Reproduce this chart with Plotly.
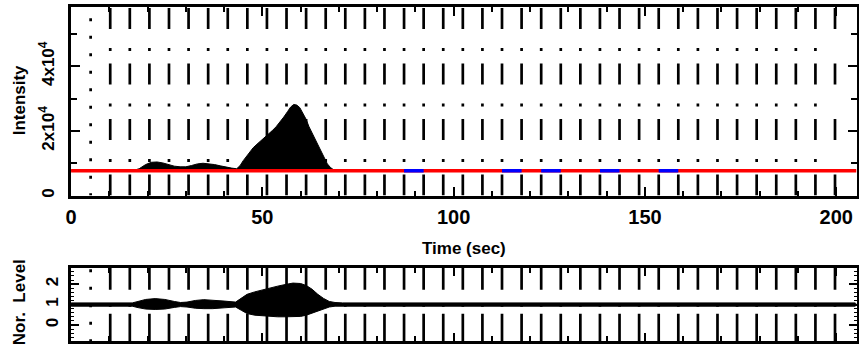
import plotly.graph_objects as go

# ---------------- data ----------------
# top panel: intensity light curve (counts) vs time (s)
time_s = [0, 16.0, 17.8, 19.5, 21.0, 22.5, 24.0, 25.5, 27.0, 28.5, 30.0, 31.5, 33.0, 34.5, 36.0,
          37.5, 39.0, 40.5, 42.0, 43.3, 44.2, 45.0, 45.9, 46.8, 47.6, 48.6, 49.6, 50.6, 51.6,
          52.6, 53.6, 54.6, 55.6, 56.6, 57.4, 58.2, 59.0, 59.8, 60.6, 61.4, 62.2, 63.0, 63.8,
          64.6, 65.4, 66.2, 67.0, 67.8, 68.6, 69.5, 205.0]
intensity = [7700, 7700, 8300, 9600, 10300, 10400, 10100, 9600, 9100, 8900, 8900, 9300, 9800, 10000, 9900,
             9600, 9200, 8800, 8500, 8300, 9300, 10800, 12200, 13600, 14800, 15900, 16900, 17900, 19000,
             20100, 21300, 22700, 24300, 26000, 27400, 28200, 28000, 27200, 25600, 23700, 21300, 19300, 17600,
             15500, 13300, 11300, 9800, 8700, 8000, 7700, 7700]
background_level = 7700

# vertical segment markers (s)
segment_times = [5.12, 10.24, 15.36, 20.48, 25.60, 30.72, 35.84, 40.96, 46.08, 51.20,
                 56.32, 61.44, 66.56, 71.68, 76.80, 81.92, 87.04, 92.16, 97.28, 102.40,
                 107.52, 112.64, 117.76, 122.88, 128.00, 133.12, 138.24, 143.36, 148.48, 153.60,
                 158.72, 163.84, 168.96, 174.08, 179.20, 184.32, 189.44, 194.56, 199.68]

# flagged (blue) intervals on the background line
flag_start = [87.04, 112.64, 122.88, 138.24, 153.60]
flag_end = [92.16, 117.76, 128.00, 143.36, 158.72]

# bottom panel: normalised level envelope
norm_time = [0, 16.0, 17.5, 19.5, 22.0, 24.5, 27.0, 28.6, 30.3, 32.5, 34.7, 37.0, 40.0, 43.0,
             44.5, 46.0, 48.0, 50.0, 52.0, 54.0, 56.0, 58.0, 60.0, 61.5, 63.0, 64.5, 66.0, 67.5,
             69.0, 71.0, 205.0]
norm_upper = [1.08, 1.08, 1.15, 1.25, 1.29, 1.25, 1.15, 1.10, 1.12, 1.20, 1.24, 1.22, 1.17, 1.12,
              1.30, 1.50, 1.62, 1.72, 1.82, 1.90, 1.98, 2.05, 2.03, 1.93, 1.75, 1.50, 1.30, 1.15,
              1.10, 1.08, 1.08]
norm_lower = [0.92, 0.92, 0.85, 0.78, 0.76, 0.78, 0.86, 0.90, 0.88, 0.82, 0.80, 0.80, 0.84, 0.88,
              0.72, 0.56, 0.48, 0.45, 0.42, 0.40, 0.40, 0.40, 0.42, 0.48, 0.58, 0.68, 0.78, 0.88,
              0.92, 0.92, 0.92]
norm_reference = 1.0

x_ticks = [0, 50, 100, 150, 200]
y1_ticks = [0, 20000, 40000]
y1_ticktext = ["0", "2x10<sup>4</sup>", "4x10<sup>4</sup>"]
y2_ticks = [0, 1, 2]

# ---------------- figure ----------------
W, H = 859, 350
X_RANGE = [0, 205.3]
Y1_RANGE = [0, 58460]
Y2_RANGE = [-0.8, 2.8]

top_px, bot_px = 6.7, 196.7
top2_px, bot2_px = 269.3, 343.3
u1 = (Y1_RANGE[1] - Y1_RANGE[0]) / (bot_px - top_px)   # units per pixel
u2 = (Y2_RANGE[1] - Y2_RANGE[0]) / (bot2_px - top2_px)

FONT = "Liberation Sans"
DASHDOT = "21px,19px,3px,12.5px"
DASHED = "21px,34.5px"
DOTTED = "3px,14.5px"
LOWER_DASHDOT = "22px,14px,3px,7px,60px"
LW = 2.7

fig = go.Figure()

# vertical markers, top panel
n = len(segment_times)
for i, t in enumerate(segment_times):
    if i == 0:
        y0 = Y1_RANGE[1] + 6 * u1
        dash = DOTTED
    else:
        y0 = Y1_RANGE[1] - 1.3 * u1
        dash = DASHED if i == n - 1 else DASHDOT
    fig.add_trace(go.Scatter(x=[t, t], y=[y0, Y1_RANGE[0]], mode="lines",
                             line=dict(color="black", width=LW, dash=dash),
                             xaxis="x", yaxis="y", hoverinfo="skip", showlegend=False))

# intensity fill
fig.add_trace(go.Scatter(x=time_s, y=[background_level] * len(time_s), mode="lines",
                         line=dict(width=0, color="black"), xaxis="x", yaxis="y",
                         hoverinfo="skip", showlegend=False))
fig.add_trace(go.Scatter(x=time_s, y=intensity, mode="lines", fill="tonexty",
                         fillcolor="black", line=dict(color="black", width=1),
                         xaxis="x", yaxis="y", showlegend=False))

# background level (red) and flagged intervals (blue)
fig.add_trace(go.Scatter(x=X_RANGE, y=[background_level, background_level], mode="lines",
                         line=dict(color="#ff0000", width=3.5), xaxis="x", yaxis="y",
                         hoverinfo="skip", showlegend=False))
for a, b in zip(flag_start, flag_end):
    fig.add_trace(go.Scatter(x=[a, b], y=[background_level, background_level], mode="lines",
                             line=dict(color="#0000ff", width=3.5), xaxis="x", yaxis="y",
                             hoverinfo="skip", showlegend=False))

# vertical markers, bottom panel
for i, t in enumerate(segment_times):
    if i == 0:
        y0 = Y2_RANGE[1] - 1.5 * u2
        dash = DOTTED
    else:
        y0 = Y2_RANGE[1]
        dash = LOWER_DASHDOT
    fig.add_trace(go.Scatter(x=[t, t], y=[y0, Y2_RANGE[0]], mode="lines",
                             line=dict(color="black", width=LW, dash=dash),
                             xaxis="x2", yaxis="y2", hoverinfo="skip", showlegend=False))

fig.add_trace(go.Scatter(x=X_RANGE, y=[norm_reference, norm_reference], mode="lines",
                         line=dict(color="black", width=2.5), xaxis="x2", yaxis="y2",
                         hoverinfo="skip", showlegend=False))
fig.add_trace(go.Scatter(x=norm_time, y=norm_lower, mode="lines",
                         line=dict(color="black", width=1), xaxis="x2", yaxis="y2",
                         hoverinfo="skip", showlegend=False))
fig.add_trace(go.Scatter(x=norm_time, y=norm_upper, mode="lines", fill="tonexty",
                         fillcolor="black", line=dict(color="black", width=1),
                         xaxis="x2", yaxis="y2", showlegend=False))

xdom = [65.5 / W, 856.5 / W]
ax_common = dict(showline=True, linecolor="black", linewidth=2.7, mirror="ticks",
                 ticks="inside", tickcolor="black", tickwidth=2, showgrid=False,
                 zeroline=False)

fig.update_layout(
    width=W, height=H,
    margin=dict(l=0, r=0, t=0, b=0),
    paper_bgcolor="white", plot_bgcolor="white",
    font=dict(family=FONT, color="black", size=16, weight="bold"),
    showlegend=False,
    xaxis=dict(domain=xdom, range=X_RANGE, anchor="y", tickvals=x_ticks, ticklen=9,
               tickfont=dict(family=FONT, size=20, weight="bold"), ticklabelstandoff=2,
               minor=dict(dtick=10, tick0=0, ticklen=5, ticks="inside", tickwidth=2,
                          tickcolor="black"),
               **ax_common),
    yaxis=dict(domain=[1 - bot_px / H, 1 - top_px / H], range=Y1_RANGE, anchor="x",
               tickvals=y1_ticks, ticktext=y1_ticktext, tickangle=-90, ticklen=9,
               tickfont=dict(family=FONT, size=17, weight="bold"), ticklabelstandoff=7,
               minor=dict(dtick=10000, tick0=0, ticklen=6, ticks="inside", tickwidth=2,
                          tickcolor="black"),
               **ax_common),
    xaxis2=dict(domain=xdom, range=X_RANGE, anchor="y2", tickvals=x_ticks, ticklen=8,
                showticklabels=False,
                minor=dict(dtick=10, tick0=0, ticklen=5, ticks="inside", tickwidth=2,
                           tickcolor="black"),
                **ax_common),
    yaxis2=dict(domain=[1 - bot2_px / H, 1 - top2_px / H], range=Y2_RANGE, anchor="x2",
                tickvals=y2_ticks, tickangle=-90, ticklen=8,
                tickfont=dict(family=FONT, size=17, weight="bold"), ticklabelstandoff=3,
                minor=dict(dtick=0.2, tick0=0, ticklen=3, ticks="inside", tickwidth=1,
                           tickcolor="black"),
                **ax_common),
    annotations=[
        dict(text="Intensity", x=14 / W, y=1 - 101 / H, xref="paper", yref="paper",
             showarrow=False, textangle=-90, xanchor="center", yanchor="middle",
             font=dict(family=FONT, size=17, weight="bold")),
        dict(text="Time (sec)", x=461.7 / W, y=1 - 250 / H, xref="paper", yref="paper",
             showarrow=False, xanchor="center", yanchor="middle",
             font=dict(family=FONT, size=17, weight="bold")),
        dict(text="Nor.  Level", x=13 / W, y=1 - 304 / H, xref="paper", yref="paper",
             showarrow=False, textangle=-90, xanchor="center", yanchor="middle",
             font=dict(family=FONT, size=17, weight="bold")),
    ],
)

fig.write_html("out.html", config={"displayModeBar": False},
               post_script="document.body.style.margin='0';document.body.style.overflow='hidden';")
